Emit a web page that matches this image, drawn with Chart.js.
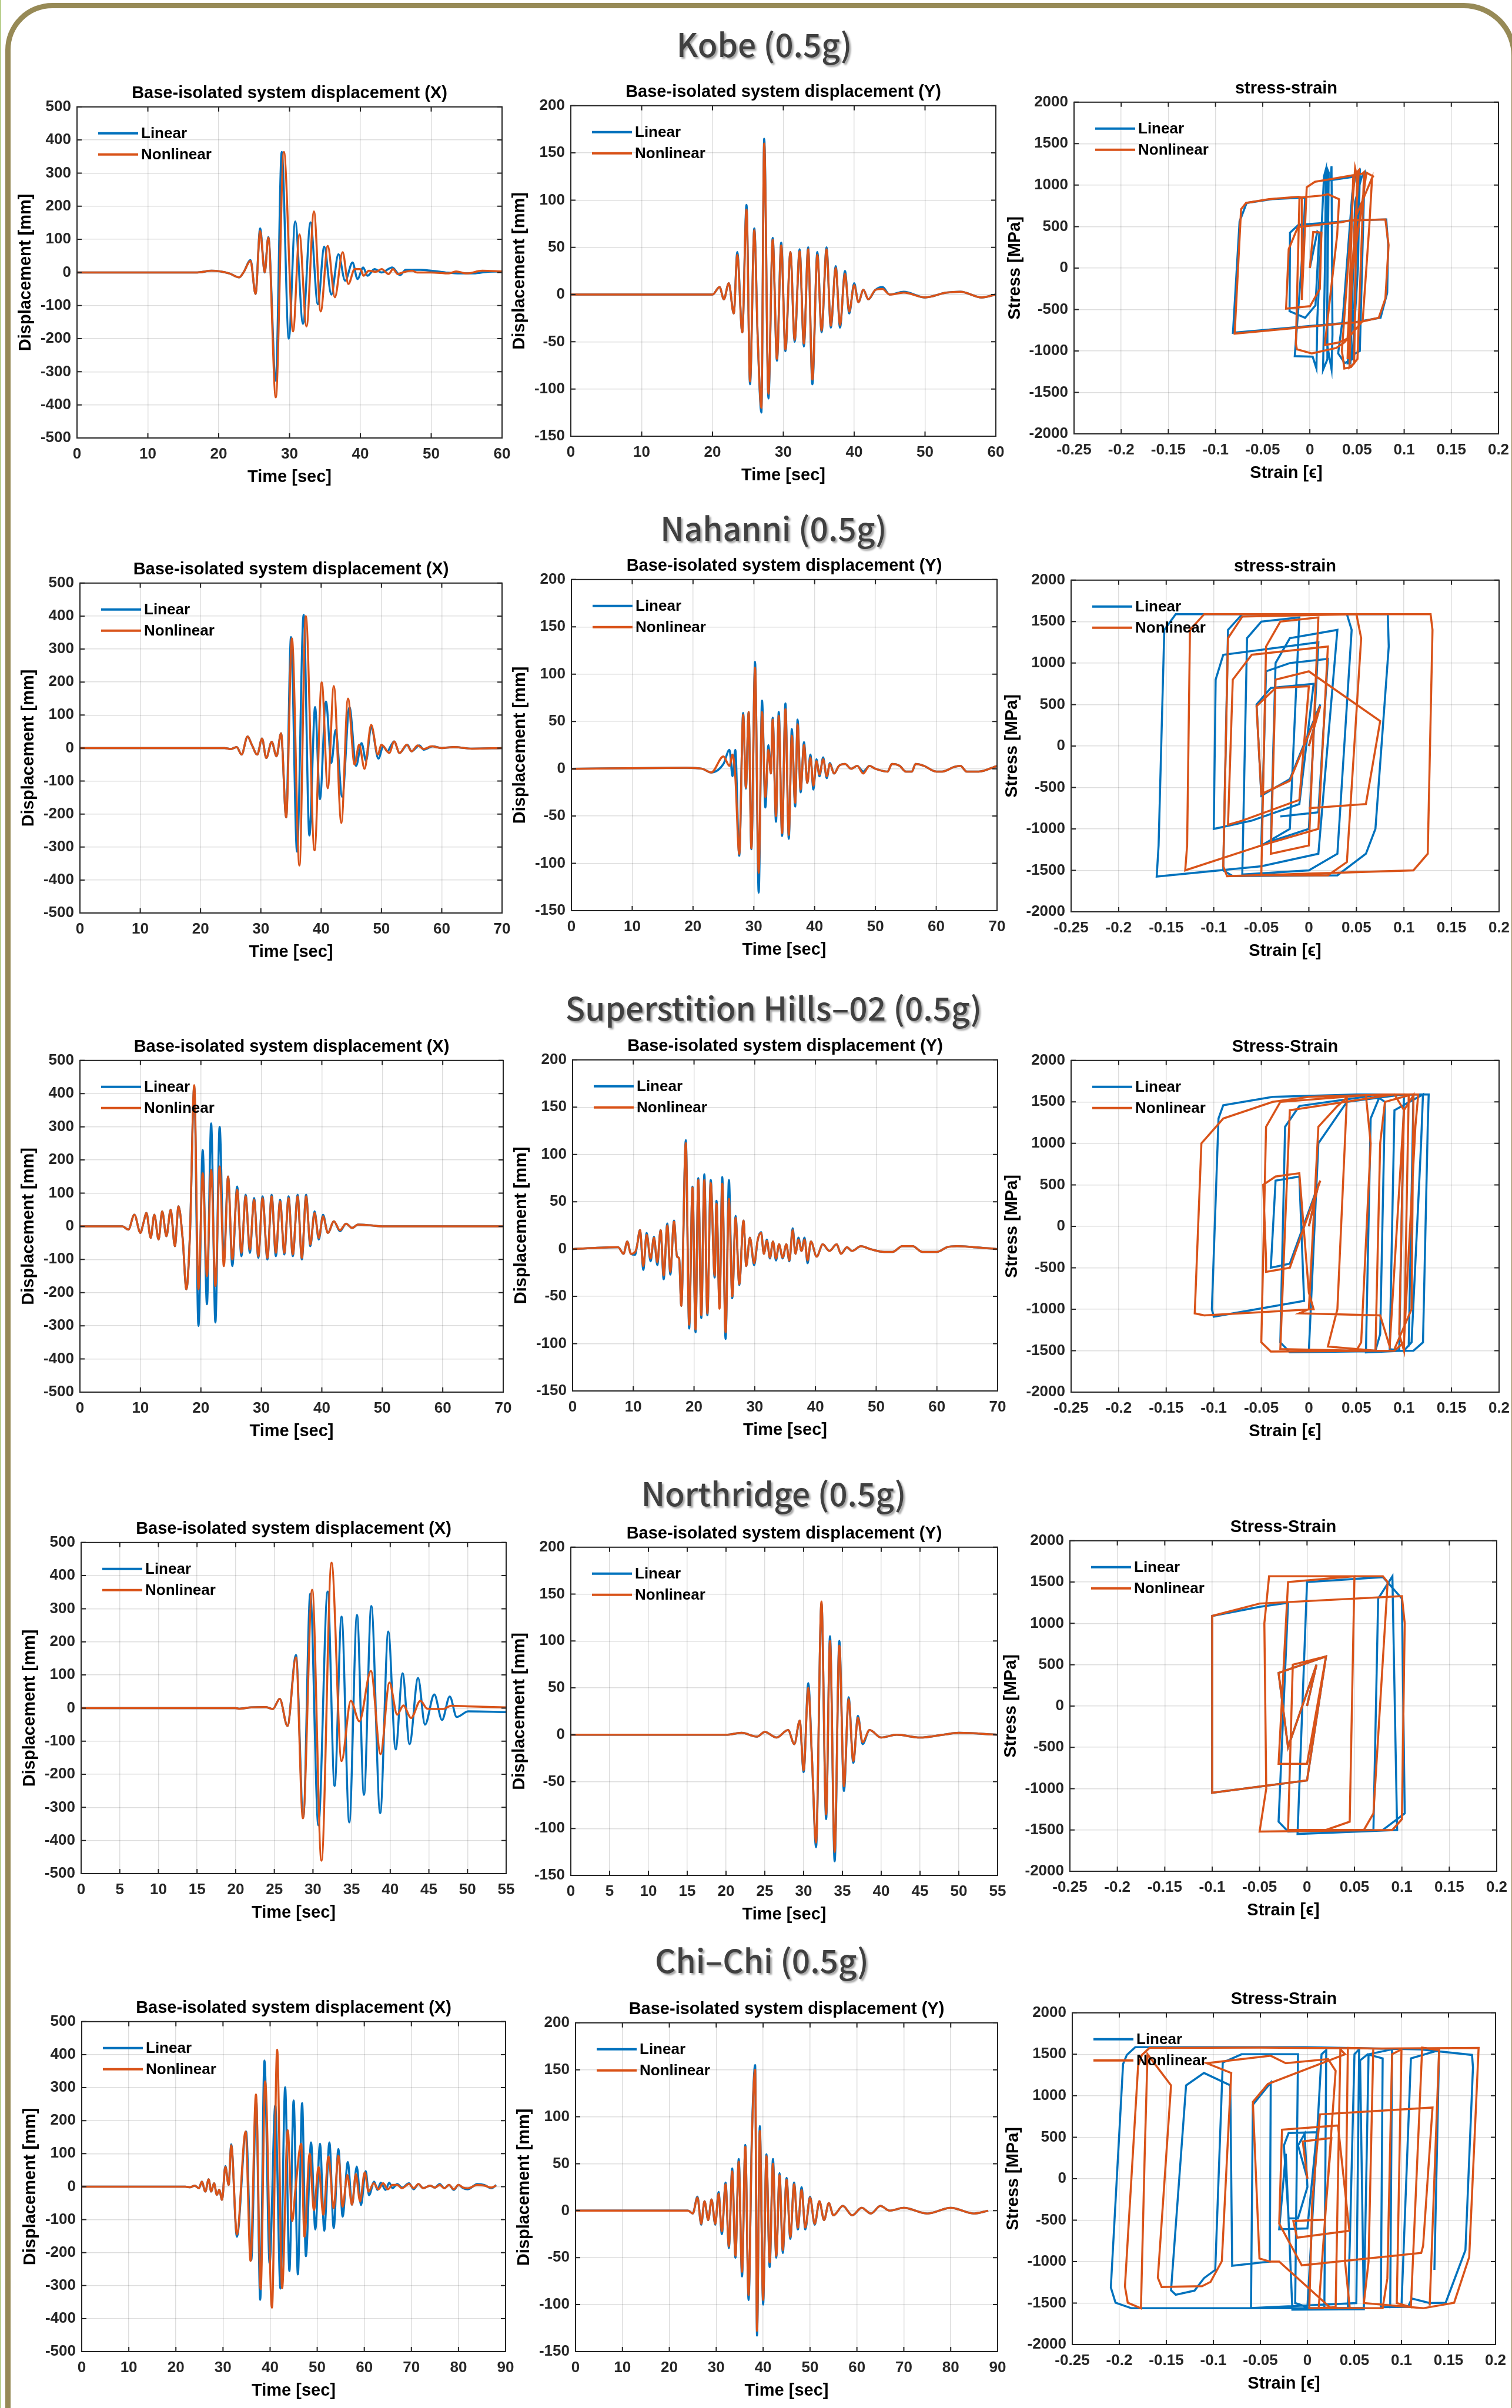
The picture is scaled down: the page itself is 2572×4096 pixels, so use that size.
<!DOCTYPE html>
<html>
<head>
<meta charset="utf-8">
<script src="https://cdn.jsdelivr.net/npm/chart.js@4.4.1/dist/chart.umd.min.js"></script>
<style>
  html, body { margin: 0; padding: 0; background: #fff; }
  body { width: 2572px; height: 4096px; position: relative; overflow: hidden; }
  #frame { position: absolute; left: 9px; top: 5px; width: 2553px; height: 4300px;
           border: 9px solid #978a56; border-radius: 80px 90px 0 0; }
  #edge { position: absolute; left: 0; top: 0; width: 2px; height: 4096px; background: #b9cf8c; }
  .sec { position: absolute; width: 1400px; text-align: center; line-height: 60px;
         font-family: "Noto Sans CJK KR", "Noto Sans", sans-serif; font-weight: 500; font-size: 55px;
         color: #404040; text-shadow: 3px 3px 3px rgba(0,0,0,0.35); white-space: nowrap; }
  canvas { position: absolute; }
</style>
</head>
<body>
<div id="edge"></div>
<div id="frame"></div>
<script>
// ---- tick labels ----
const ticks60 = [0, 10, 20, 30, 40, 50, 60];
const ticks70 = [0, 10, 20, 30, 40, 50, 60, 70];
const ticks55 = [0, 5, 10, 15, 20, 25, 30, 35, 40, 45, 50, 55];
const ticks90 = [0, 10, 20, 30, 40, 50, 60, 70, 80, 90];
const dispXTicks = [-500, -400, -300, -200, -100, 0, 100, 200, 300, 400, 500];
const dispYTicks = [-150, -100, -50, 0, 50, 100, 150, 200];
const strainTicks = [-0.25, -0.2, -0.15, -0.1, -0.05, 0, 0.05, 0.1, 0.15, 0.2];
const stressTicks = [-2000, -1500, -1000, -500, 0, 500, 1000, 1500, 2000];

// ---- Kobe ----
const kobeX_tL = [0,10,17,19,21.5,22.9,23.5,24.5,25.2,25.85,26.5,27.0,28.06,28.9,29.9,30.8,31.9,32.96,34.0,34.9,35.9,36.9,37.85,38.9,39.6,40.4,41.0,42.0,43.0,44.5,45.6,46.4,48.5,50,52,54,56,58,60];
const kobeX_L  = [0,0,0,5,-3,-15,0,37,-65,133,0,107,-327,364,-200,154,-155,151,-96,78,-67,55,-25,30,-20,15,-10,10,0,15,-8,8,8,5,0,-3,-3,2,3];
const kobeX_tN = [0,10,17,19,21.5,22.9,23.5,24.5,25.2,25.85,26.5,27.0,28.06,29.2,30.5,31.4,32.4,33.45,34.4,35.4,36.4,37.5,38.3,39.2,40.0,40.45,41.2,42.2,43.0,44.0,44.6,45.3,46.0,47.3,48,50,52.5,53.5,55,57.2,60];
const kobeX_N  = [0,0,0,5,-3,-15,0,35,-65,125,0,105,-377,364,-178,115,-163,184,-118,80,-75,61,-35,10,10,-10,5,2,10,-5,10,-5,0,5,0,0,-3,3,-3,5,3];

const kobeY_t = [0,15,20,21,21.6,22.3,23.0,23.5,24.2,24.8,25.3,25.9,26.4,26.9,27.3,27.9,28.5,29.1,29.7,30.3,31.0,31.6,32.3,32.9,33.5,34.1,34.8,35.4,36.1,36.7,37.4,38.0,38.7,39.3,40.0,40.6,41.3,42,43,44,45,47,50,53,55,58,60];
const kobeY_L = [0,0,0,8,-5,12,-20,45,-40,95,-95,70,-50,-125,165,-110,60,-70,55,-60,45,-50,48,-55,50,-95,45,-40,50,-35,30,-35,25,-20,12,-8,5,-5,5,8,0,3,-3,2,3,-3,0];
const kobeY_N = [0,0,0,8,-5,12,-20,42,-40,90,-92,68,-50,-120,160,-105,58,-68,52,-58,45,-48,46,-52,48,-90,42,-38,48,-33,28,-32,22,-18,10,-8,5,-5,5,6,0,2,-3,2,3,-3,0];

const kobeSS_eL = [0,0.008,0.010,0.006,-0.005,-0.0215,-0.021,-0.012,0.030,0.045,0.081,0.083,0.082,0.075,0.05,-0.0815,-0.0745,-0.067,-0.040,-0.005,-0.007,-0.016,0.003,0.007,0.008,0.015,0.017,0.016,0.014,0.0186,0.0186,0.020,0.018,0.023,0.024,0.023,0.022,0.050,0.053,0.051,0.045,0.037,0.030,0.035,0.045,0.049,0.052,0.047,0.040,0.043,0.048,0.055,0.058,0.053,0.045];
const kobeSS_sL = [0,440,420,-450,-600,-520,427,520,556,575,586,280,-300,-600,-650,-781,560,785,830,850,300,-1063,-1070,-1212,-600,1106,1190,0,-1228,-1100,1190,1150,-900,-1222,-800,1228,1060,1106,1162,0,-1100,-1146,-1030,-600,900,1150,1160,-500,-1150,-1150,800,1100,1150,-1000,-1050];
const kobeSS_eN = [0,0.0036,0.0123,0.0106,0.0002,-0.0252,-0.0224,-0.0127,0.0332,0.0436,0.0801,0.0835,0.0801,0.0731,0.054,-0.0797,-0.0729,-0.0676,-0.0433,-0.012,-0.0085,-0.0085,-0.0033,0.0054,0.0228,0.0558,0.0575,0.0505,0.0436,0.0366,0.034,0.048,0.050,0.047,0.042,0.044,0.048,0.066,0.063,0.056,0.0366,0.028,0.002,-0.0137,-0.0148,-0.011,0.0123,0.0193,0.031,0.029,0.0158,0.03,0.04,0.045,0.052,0.046,0.040,0.043,0.06,0.068];
const kobeSS_sN = [0,434,427,-252,-460,-490,228,493,553,576,586,278,-368,-599,-649,-791,709,785,831,858,850,-384,974,1040,1073,1139,1156,-1096,-1195,-1212,-1000,1205,1100,-1150,-1200,-300,600,1089,500,-640,-897,-964,-1030,-980,-914,850,874,890,830,400,-930,-900,-850,0,1180,1100,-1100,-200,1150,1100];

// ---- Nahanni ----
const nahX_tL = [0,24,25,26,26.8,27.8,28.5,29.4,30.2,30.9,31.8,32.6,33.35,34.2,35.0,36.0,37.1,38.05,39.0,39.8,40.8,41.7,42.4,43.5,44.7,45.8,46.7,47.45,48.3,49.5,50.3,51,51.6,52.1,53,54.3,55,56.3,57,58.5,60,62,65,70];
const nahX_L  = [0,0,-3,3,-20,35,10,-20,29,-30,19,-25,45,-210,336,-314,404,-265,124,-155,141,-45,55,-148,124,-54,15,-39,64,-32,5,-10,8,20,-15,10,-10,8,-5,5,0,3,-2,0];
const nahX_tN = [0,24,25,26,26.8,27.8,28.5,29.4,30.2,30.9,31.8,32.6,33.35,34.2,35.15,36.4,37.45,38.9,40.1,41.1,42.1,43.35,44.45,45.55,46.3,47.2,48.3,49.4,50,51.3,52.1,53,54.2,55,56,57,58.3,60,62,65,70];
const nahX_N  = [0,0,-3,3,-20,35,10,-20,29,-30,19,-25,45,-210,332,-356,400,-310,199,-122,188,-227,150,-50,10,-63,70,-20,10,-15,20,-15,10,-10,8,-3,5,0,3,-2,0];

const nahY_t = [0,19,21.5,23.0,25,26.0,26.5,26.95,27.6,28.25,28.7,29.15,29.6,30.2,30.8,31.35,31.9,32.4,32.8,33.1,33.65,34.1,34.65,35.2,35.75,36.25,36.8,37.2,37.7,38.25,38.8,39.3,39.8,40.3,40.8,41.4,42,42.5,43.2,44,45,46,47,48,49,50,51,52,52.7,54,55,56,56.6,58,60,61,63,64,65,67,70];
const nahY_L = [0,1,0,-4,5,20,-8,20,-92,59,-21,60,-85,113,-131,72,-41,25,-5,54,-56,60,-71,69,-74,42,-40,52,-25,28,-15,15,-22,10,-8,12,-10,6,-5,3,5,0,3,-3,3,0,-2,-3,5,3,-3,-3,5,3,-3,-3,2,3,-3,-3,3];
const nahY_N = [0,1,0,-4,13,3,15,-8,-90,57,-20,60,-84,107,-110,60,-30,20,-5,52,-50,56,-68,63,-70,35,-36,47,-22,25,-15,12,-18,8,-6,10,-8,5,-5,3,5,0,3,-5,3,0,-2,-3,5,3,-3,-3,5,3,-3,-3,2,3,-3,-3,3];

const nahSS_eL = [0,0.012,-0.02,-0.05,-0.055,-0.04,0.005,-0.01,-0.06,-0.1,-0.098,-0.09,0.01,0.0,-0.04,-0.035,-0.02,0.03,0.01,-0.05,-0.16,-0.158,-0.152,-0.14,0.083,0.084,0.07,0.06,0.03,-0.08,-0.09,-0.085,-0.07,0.04,0.045,0.03,0.0,-0.07,-0.065,-0.05,-0.01,-0.02,-0.05,-0.045,-0.02,0.02,0.01,-0.03];
const nahSS_sL = [0,500,-400,-600,500,700,750,-700,-900,-1000,800,1100,1250,-1000,-1150,1000,1300,1400,-1300,-1450,-1575,-1200,1400,1590,1590,1200,-1000,-1300,-1560,-1570,-1500,1400,1590,1590,1400,-1300,-1500,-1550,1300,1500,1550,-1000,-1200,900,1000,1050,-800,-850];
const nahSS_eN = [0,0.012,-0.02,-0.05,-0.055,-0.035,0.0,-0.01,-0.07,-0.085,-0.08,-0.06,0.02,0.01,-0.05,-0.13,-0.128,-0.125,-0.11,0.128,0.13,0.125,0.11,-0.086,-0.09,-0.085,-0.07,0.05,0.055,0.04,0.02,-0.05,-0.045,-0.03,0.01,0.0,-0.04,-0.035,0.0,0.075,0.06,0.0];
const nahSS_sN = [0,480,-420,-580,480,700,720,-650,-900,-950,800,1100,1200,-1000,-1200,-1500,-1200,1400,1590,1590,1400,-1300,-1500,-1570,-1450,1300,1560,1590,1300,-1400,-1560,-1560,1200,1500,1550,-1200,-1300,800,900,300,-700,-750];

// ---- Superstition Hills-02 ----
const supX_t = [0,7,8,9,10,10.5,11,11.7,12.3,13,13.6,14.3,15,15.7,16.3,17,17.6,18.2,18.9,19.6,20.3,21,21.7,22.4,23.1,23.8,24.5,25.2,26,26.7,27.4,28.1,28.8,29.5,30.2,31,31.7,32.4,33.1,33.8,34.5,35.2,36,36.7,37.4,38.1,38.8,39.5,40.2,41,42,43,44,45,46,48,50,55,60,70];
const supX_L = [0,0,-10,35,-20,10,40,-35,35,-40,45,-30,50,-60,60,-40,-190,-20,420,-300,230,-235,310,-290,300,-100,150,-120,120,-90,95,-80,85,-95,90,-100,95,-90,80,-85,90,-90,95,-100,95,-60,45,-40,35,-20,15,-15,8,-5,5,3,0,0,0,0];
const supX_N = [0,0,-10,35,-20,10,40,-35,35,-40,45,-30,50,-60,60,-40,-190,-20,425,-190,160,-150,170,-180,180,-120,150,-100,110,-80,90,-70,80,-90,85,-95,90,-80,75,-80,85,-85,90,-95,90,-55,40,-35,30,-20,15,-12,8,-5,5,3,0,0,0,0];

const supY_t = [0,7.5,8.4,9.0,9.6,10.3,10.6,11.1,11.65,12.2,12.85,13.4,13.95,14.5,15.0,15.6,16.1,16.7,17.2,17.55,17.9,18.65,19.2,19.75,20.25,20.7,21.2,21.7,22.2,22.75,23.4,23.7,24.2,24.65,25.2,25.75,26.3,26.85,27.45,28.15,28.6,29.2,29.9,30.5,31.05,31.5,32.0,32.5,33.0,33.5,34.0,34.6,35.2,35.7,36.25,36.7,37.2,37.7,38.2,38.7,39.25,40.2,41.2,42.3,43.5,44.2,45.2,46,47.5,49,51.3,52.7,54.3,56,57.6,60,61.7,63.3,66,70];
const supY_L = [0,2,-5,8,-5,-6,3,20,-22,17,-13,13,-17,20,-32,27,-27,30,-8,-10,-60,115,-84,66,-88,75,-73,79,-70,73,-30,51,-60,76,-95,73,-52,35,-38,30,-18,12,-17,10,18,-5,10,-10,8,-12,5,-10,5,-13,22,-5,12,-2,12,-15,8,-8,5,-2,5,-5,2,-2,3,0,-3,-3,3,3,-3,-3,2,3,2,0];
const supY_N = [0,2,-5,8,-5,-3,3,20,-18,15,-10,12,-14,20,-28,25,-24,29,-8,-10,-60,112,-80,65,-85,73,-70,73,-68,70,-28,48,-63,69,-88,53,-50,33,-37,30,-18,12,-15,10,17,-5,9,-9,8,-10,5,-9,5,-12,20,-5,10,-2,10,-12,8,-8,5,-2,5,-5,2,-2,3,0,-3,-3,3,3,-3,-3,2,3,2,0];

const supSS_eL = [0,0.01,-0.02,-0.04,-0.035,-0.01,-0.005,-0.1,-0.102,-0.095,-0.09,-0.038,0.05,0.126,0.125,0.12,0.11,-0.02,-0.03,-0.025,-0.01,0.07,0.08,0.075,0.07,0.0,0.01,0.04,0.1,0.095,0.085,0.09,0.12,0.118,0.108,0.1,0.06,0.065,0.075,0.11,0.105];
const supSS_sL = [0,500,-450,-500,550,600,-900,-1090,-1000,1300,1460,1560,1590,1590,1200,-1400,-1500,-1520,-1400,1200,1450,1580,1500,-1300,-1500,-1500,1000,1500,1590,-1500,-1480,1400,1590,1000,-1400,-1500,-1520,1300,1580,1590,-1450];
const supSS_eN = [0,0.01,0.012,-0.02,-0.045,-0.045,-0.048,-0.035,-0.01,0.0,0.005,-0.11,-0.12,-0.113,-0.09,-0.038,0.0,0.08,0.115,0.112,0.1,0.09,-0.04,-0.05,-0.045,-0.03,0.06,0.065,0.055,0.05,-0.03,-0.025,-0.02,0.09,0.1,0.085,0.075,-0.01,0.0,0.01,0.03,0.04,0.03,0.02,0.07,0.075,0.08,0.105,0.1,0.095,0.1,0.11,0.108,0.09];
const supSS_sN = [0,500,550,-500,-550,-400,500,600,640,-800,-1000,-1075,-1050,1000,1300,1500,1560,1590,1590,1200,-1400,-1500,-1510,-1400,1200,1500,1580,1000,-1400,-1500,-1480,0,1400,1590,1400,-1450,-1075,-1050,-1000,1200,1450,1550,-1000,-1450,-1500,1000,1500,1580,-1500,-1300,1400,1580,-1000,-1480];

// ---- Northridge ----
const norX_tL = [0,20,20.5,22,23.9,24.8,25.7,26.7,27.8,28.75,29.65,30.7,31.9,32.8,33.7,34.7,35.7,36.6,37.55,38.7,39.75,40.7,41.6,42.5,43.6,44.5,45.7,46.7,47.7,48.6,50.1,55];
const norX_L  = [0,0,-2,2,3,-3,28,-54,160,-329,345,-354,352,-235,276,-345,281,-262,308,-317,231,-125,105,-109,91,-50,41,-36,35,-27,-10,-12];
const norX_tN = [0,20,20.5,22,23.9,24.8,25.7,26.7,27.8,28.7,29.9,31.1,32.4,33.7,34.9,36.0,37.5,38.75,39.9,40.9,41.7,42.7,43.9,44.8,46.8,47.9,50,55];
const norX_N  = [0,0,-2,2,3,-3,28,-54,153,-333,357,-461,439,-160,22,-40,112,-139,77,-20,8,-30,22,-2,-3,7,5,2];

const norY_t = [0,20,22,24,25,26.5,28,28.8,29.5,30.0,30.6,31.1,31.6,32.3,32.9,33.4,34.0,34.6,35.2,35.8,36.4,37.0,37.6,38.5,40,42,45,48,50,55];
const norY_L = [0,0,2,-2,3,-3,5,-10,15,-40,55,-30,-120,140,-90,105,-135,100,-60,40,-30,20,-10,5,-3,0,-3,0,2,0];
const norY_N = [0,0,2,-2,3,-3,5,-10,15,-38,50,-30,-115,142,-85,100,-125,95,-55,38,-28,18,-8,5,-3,0,-3,0,2,0];

const norSS_eL = [0,0.01,-0.02,-0.03,0.02,0.0,-0.1,-0.1,-0.05,-0.02,-0.03,-0.02,0.07,0.075,0.09,0.095,-0.01,0.0,0.08,0.1,0.103,0.08];
const norSS_sL = [0,500,-500,400,600,-900,-1050,1090,1200,1250,-1400,-1520,-1500,1300,1570,-1500,-1550,1500,1560,1300,-1300,-1500];
const norSS_eN = [0,0.01,-0.02,-0.03,0.02,0.0,-0.1,-0.1,-0.05,0.1,0.103,0.1,0.09,-0.05,-0.043,-0.045,-0.04,0.08,0.085,0.07,0.06,-0.02,-0.015,0.02,0.0,-0.03,-0.02,0.05,0.045,0.02];
const norSS_sN = [0,500,-500,400,600,-900,-1050,1090,1240,1330,1000,-1370,-1500,-1520,-1000,1000,1570,1570,1500,-1300,-1500,-1500,500,600,-700,-700,1500,1570,-1400,-1500];

// ---- Chi-Chi ----
const chiX_tL = [0,22,23,24.0,24.9,25.5,26.25,26.95,27.5,28.1,28.7,29.2,29.8,30.5,31.2,31.75,32.95,34.9,36.0,37.05,37.9,38.8,39.9,41.1,42.2,43.2,44.1,45.0,45.9,46.8,47.6,48.7,49.6,50.6,51.5,52.6,53.5,54.5,55.4,56.5,57.4,58.4,59.3,60.3,61.0,62.1,62.8,63.5,64.5,65.3,66,67,68,69.5,70.5,71.5,72.5,74,75,76,77,78,79,80,81,82,84,85.5,87,88];
const chiX_L  = [0,0,-2,3,-5,15,-15,22,-15,10,-25,-10,-40,62,5,128,-152,167,-223,265,-343,382,-233,246,-309,301,-256,261,-266,253,-211,134,-130,130,-134,134,-126,114,-91,74,-55,61,-56,47,-26,15,-10,12,-10,12,-5,8,-3,10,-8,8,-5,3,-3,8,-5,5,-10,5,-5,-8,8,5,-5,5];
const chiX_tN = [0,22,23,24.0,24.9,25.5,26.25,26.95,27.5,28.1,28.7,29.2,29.8,30.5,31.2,31.75,32.95,34.8,35.85,37.0,38.0,38.95,40.4,41.5,42.55,43.75,44.7,45.4,46.6,47.3,48.4,49.3,50.3,51.3,52.4,53.5,54.5,55.4,56.4,57.4,58.2,59.1,60.1,60.9,62,63,64,65,66,67,68,69.5,70.5,71.5,72.5,74,75,76,77,78,79,80,81,82,84,85.5,87,88];
const chiX_N  = [0,0,-2,3,-5,15,-15,22,-15,10,-25,-10,-40,60,5,125,-145,167,-225,279,-311,319,-367,415,-308,171,-105,-5,130,-152,100,-71,59,-85,91,-65,94,-61,35,-55,38,-45,43,-15,10,-8,10,-8,5,5,-5,8,-5,8,-5,3,-3,5,-5,5,-8,5,-3,-5,5,3,-3,3];

const chiY_t = [0,24,25,26,26.8,27.5,28.3,29,29.8,30.5,31.2,32,32.7,33.4,34.1,34.8,35.5,36.2,36.9,37.6,38.3,38.7,39.3,40,40.7,41.4,42.1,42.8,43.5,44.2,45,45.8,46.6,47.4,48.2,49,50,51,52,53,54,55,57,59,61,63,65,67,70,75,80,85,88];
const chiY_L = [0,0,-3,15,-15,10,-10,12,-15,20,-25,30,-40,45,-50,55,-70,70,-95,80,155,-133,90,-100,60,-60,55,-50,40,-45,35,-30,30,-20,25,-20,15,-15,10,-10,8,-5,5,-5,3,-3,5,0,3,-3,3,-3,0];
const chiY_N = [0,0,-3,14,-14,10,-10,12,-14,18,-22,28,-38,42,-48,52,-65,68,-90,76,150,-128,85,-95,58,-55,50,-48,38,-42,33,-28,28,-18,22,-18,14,-14,10,-10,8,-5,5,-5,3,-3,5,0,3,-3,3,-3,0];

const chiSS_eL = [0,-0.01,-0.003,0.0,-0.01,-0.02,-0.025,-0.02,0.01,0.0,-0.03,-0.023,-0.016,0.06,0.056,0.064,0.08,0.078,0.107,0.111,0.13,0.147,0.168,0.176,0.175,0.12,0.039,-0.0024,-0.183,-0.192,-0.196,-0.209,-0.204,-0.187,0.043,0.045,0.05,0.055,0.052,-0.06,-0.058,-0.039,-0.04,-0.08,-0.082,-0.11,-0.129,-0.145,-0.14,-0.12,-0.11,-0.098,-0.09,-0.07,-0.01,-0.013,0.0,0.015,0.02,0.018,0.06,0.065,0.09,0.088,0.1,0.11,0.14,0.135];
const chiSS_sL = [0,400,540,-100,-480,-480,400,550,560,-600,-610,300,-1580,-1575,1426,1500,1450,-1550,-1546,-1446,-1500,-1496,-861,1342,1492,1559,1576,1586,1586,1492,1382,-1312,-1496,-1563,-1563,-800,1500,1560,-1500,-1560,891,1158,-1000,-1050,1125,1275,1125,-1346,-1400,-1350,-1200,-1100,1400,1500,1500,-1500,-1550,1500,1550,-1560,-1560,1500,1560,-1550,-1540,1450,1550,-1100];
const chiSS_eN = [0,-0.005,0.0255,0.0185,-0.015,-0.011,0.0446,0.0325,-0.027,-0.03,-0.006,0.121,0.123,0.133,0.0133,0.005,0.002,0.045,0.04,0.043,0.07,0.065,0.06,0.123,0.156,0.172,0.182,0.08,-0.05,-0.168,-0.176,-0.18,-0.194,-0.191,-0.177,-0.173,-0.17,-0.145,-0.159,-0.155,-0.112,-0.103,-0.091,-0.081,-0.107,-0.039,-0.023,0.022,0.03,0.012,0.03,0.035,0.04,-0.042,-0.058,-0.051,-0.04,-0.03,0.025,0.08,0.085,0.09,0.1,0.095,0.11,0.122,0.14,0.13];
const chiSS_sN = [0,450,491,-494,-511,-711,-628,641,591,-544,-1045,-895,-811,858,775,-300,-1560,-1563,-1000,1576,1570,-1000,-1500,-1563,-1496,-945,1576,1570,1580,1576,1492,1359,-1300,-1496,-1563,290,1500,1125,-1195,-1306,-1296,-1245,-995,1275,1392,1482,1392,1442,1300,-1560,-1550,1560,1500,1142,925,-962,-1000,-1000,-1563,-1560,-1200,1500,1560,-1500,-1550,1580,1550,-1530];

// ---- page pieces ----
const FONT = '"Liberation Sans", Arial, Helvetica, sans-serif';
const BLUE = '#0072BD';
const ORANGE = '#D95319';
Chart.defaults.font.family = FONT;
Chart.defaults.animation = false;

const sections = [
  { text: 'Kobe (0.5g)', cx: 1300, cy: 73 },
  { text: 'Nahanni (0.5g)', cx: 1316, cy: 896 },
  { text: 'Superstition Hills\u201302 (0.5g)', cx: 1316, cy: 1712 },
  { text: 'Northridge (0.5g)', cx: 1316, cy: 2538 },
  { text: 'Chi\u2013Chi (0.5g)', cx: 1296, cy: 3332 }
];
sections.forEach(s => {
  const d = document.createElement('div');
  d.className = 'sec';
  d.textContent = s.text;
  d.style.left = (s.cx - 700) + 'px';
  d.style.top = (s.cy - 30) + 'px';
  document.body.appendChild(d);
});

function pts(xs, ys) {
  return xs.map((x, i) => ({ x: x, y: ys[i] }));
}

function fmt(v) {
  return String(Math.round(v * 1000) / 1000);
}

// MATLAB style box, inward ticks on all four sides and an unboxed legend
const matlabAxes = {
  id: 'matlabAxes',
  afterDatasetsDraw(chart) {
    const { ctx, chartArea: a } = chart;
    const xs = chart.scales.x, ys = chart.scales.y;
    ctx.save();
    ctx.strokeStyle = '#262626';
    ctx.lineWidth = 2;
    ctx.strokeRect(a.left, a.top, a.right - a.left, a.bottom - a.top);
    ctx.beginPath();
    const tl = 8;
    xs.ticks.forEach(t => {
      const px = xs.getPixelForValue(t.value);
      ctx.moveTo(px, a.bottom); ctx.lineTo(px, a.bottom - tl);
      ctx.moveTo(px, a.top); ctx.lineTo(px, a.top + tl);
    });
    ys.ticks.forEach(t => {
      const py = ys.getPixelForValue(t.value);
      ctx.moveTo(a.left, py); ctx.lineTo(a.left + tl, py);
      ctx.moveTo(a.right, py); ctx.lineTo(a.right - tl, py);
    });
    ctx.stroke();

    chart.data.datasets.forEach((ds, i) => {
      const yy = a.top + 45 + i * 36;
      ctx.strokeStyle = ds.borderColor;
      ctx.lineWidth = 4;
      ctx.beginPath();
      ctx.moveTo(a.left + 36, yy);
      ctx.lineTo(a.left + 104, yy);
      ctx.stroke();
      ctx.fillStyle = '#000';
      ctx.font = 'bold 26px ' + FONT;
      ctx.textBaseline = 'middle';
      ctx.textAlign = 'left';
      ctx.fillText(ds.label, a.left + 109, yy + 1);
    });
    ctx.restore();
  }
};

function axis(ticks, title, isX, yw) {
  return {
    type: 'linear',
    min: ticks[0],
    max: ticks[ticks.length - 1],
    afterBuildTicks: s => { s.ticks = ticks.map(v => ({ value: v })); },
    afterFit: s => { if (isX) s.height = 88; else s.width = yw; },
    ticks: {
      font: { family: FONT, size: 26, weight: 'bold' },
      color: '#262626',
      padding: isX ? 12 : 10,
      maxRotation: 0,
      autoSkip: false,
      callback: v => fmt(v)
    },
    grid: { color: 'rgba(0,0,0,0.13)', lineWidth: 1.5, drawTicks: false },
    border: { display: false },
    title: {
      display: true,
      text: title,
      font: { family: FONT, size: 29, weight: 'bold' },
      color: '#000',
      padding: isX ? { top: 0, bottom: 3.6 } : { top: yw - (yw === 110 ? 87 : 100) - 17.4, bottom: 0 }
    }
  };
}

function panel(p) {
  const stress = p.kind === 'ss';
  const yw = stress ? 125 : 110;
  const [L, T, R, B] = p.rect;
  const w = R - L + yw + 45, h = B - T + 44 + 88;
  const cv = document.createElement('canvas');
  cv.width = w; cv.height = h;
  cv.style.left = (L - yw) + 'px';
  cv.style.top = (T - 44) + 'px';
  cv.style.width = w + 'px';
  cv.style.height = h + 'px';
  document.body.appendChild(cv);

  // order: Nonlinear (order 0) is drawn on top of Linear (order 1)
  const mk = (label, color, xs, ys, order) => ({
    label: label,
    data: pts(xs, ys),
    order: order,
    borderColor: color,
    backgroundColor: color,
    borderWidth: 3.5,
    pointRadius: 0,
    fill: false,
    tension: 0,
    cubicInterpolationMode: stress ? 'default' : 'monotone'
  });

  new Chart(cv.getContext('2d'), {
    type: 'line',
    data: {
      datasets: [
        mk('Linear', BLUE, p.xL, p.yL, 1),
        mk('Nonlinear', ORANGE, p.xN, p.yN, 0)
      ]
    },
    options: {
      responsive: false,
      devicePixelRatio: 1,
      animation: false,
      layout: { padding: { left: 0, right: 45, top: 0, bottom: 0 } },
      plugins: {
        legend: { display: false },
        tooltip: { enabled: false },
        title: {
          display: true,
          text: p.title,
          fullSize: false,
          color: '#000',
          font: { family: FONT, size: 29, weight: 'bold' },
          padding: { top: 4, bottom: 5 }
        }
      },
      scales: {
        x: axis(p.xTicks, stress ? 'Strain [\u03F5]' : 'Time [sec]', true, yw),
        y: axis(p.yTicks, stress ? 'Stress [MPa]' : 'Displacement [mm]', false, yw)
      }
    },
    plugins: [matlabAxes]
  });
}

const TX = 'Base-isolated system displacement (X)';
const TY = 'Base-isolated system displacement (Y)';

const panels = [
  { rect: [131, 182, 854, 745], title: TX, xTicks: ticks60, yTicks: dispXTicks, xL: kobeX_tL, yL: kobeX_L, xN: kobeX_tN, yN: kobeX_N },
  { rect: [971, 180, 1694, 742], title: TY, xTicks: ticks60, yTicks: dispYTicks, xL: kobeY_t, yL: kobeY_L, xN: kobeY_t, yN: kobeY_N },
  { rect: [1827, 174, 2549, 738], title: 'stress-strain', kind: 'ss', xTicks: strainTicks, yTicks: stressTicks, xL: kobeSS_eL, yL: kobeSS_sL, xN: kobeSS_eN, yN: kobeSS_sN },

  { rect: [136, 992, 854, 1553], title: TX, xTicks: ticks70, yTicks: dispXTicks, xL: nahX_tL, yL: nahX_L, xN: nahX_tN, yN: nahX_N },
  { rect: [972, 986, 1696, 1549], title: TY, xTicks: ticks70, yTicks: dispYTicks, xL: nahY_t, yL: nahY_L, xN: nahY_t, yN: nahY_N },
  { rect: [1822, 987, 2550, 1551], title: 'stress-strain', kind: 'ss', xTicks: strainTicks, yTicks: stressTicks, xL: nahSS_eL, yL: nahSS_sL, xN: nahSS_eN, yN: nahSS_sN },

  { rect: [136, 1804, 856, 2368], title: TX, xTicks: ticks70, yTicks: dispXTicks, xL: supX_t, yL: supX_L, xN: supX_t, yN: supX_N },
  { rect: [974, 1803, 1697, 2366], title: TY, xTicks: ticks70, yTicks: dispYTicks, xL: supY_t, yL: supY_L, xN: supY_t, yN: supY_N },
  { rect: [1822, 1804, 2550, 2368], title: 'Stress-Strain', kind: 'ss', xTicks: strainTicks, yTicks: stressTicks, xL: supSS_eL, yL: supSS_sL, xN: supSS_eN, yN: supSS_sN },

  { rect: [138, 2624, 861, 3187], title: TX, xTicks: ticks55, yTicks: dispXTicks, xL: norX_tL, yL: norX_L, xN: norX_tN, yN: norX_N },
  { rect: [971, 2632, 1697, 3190], title: TY, xTicks: ticks55, yTicks: dispYTicks, xL: norY_t, yL: norY_L, xN: norY_t, yN: norY_N },
  { rect: [1820, 2621, 2546, 3183], title: 'Stress-Strain', kind: 'ss', xTicks: strainTicks, yTicks: stressTicks, xL: norSS_eL, yL: norSS_sL, xN: norSS_eN, yN: norSS_sN },

  { rect: [139, 3439, 860, 4000], title: TX, xTicks: ticks90, yTicks: dispXTicks, xL: chiX_tL, yL: chiX_L, xN: chiX_tN, yN: chiX_N },
  { rect: [979, 3441, 1697, 4000], title: TY, xTicks: ticks90, yTicks: dispYTicks, xL: chiY_t, yL: chiY_L, xN: chiY_t, yN: chiY_N },
  { rect: [1824, 3424, 2544, 3988], title: 'Stress-Strain', kind: 'ss', xTicks: strainTicks, yTicks: stressTicks, xL: chiSS_eL, yL: chiSS_sL, xN: chiSS_eN, yN: chiSS_sN }
];

panels.forEach(panel);
</script>
</body>
</html>
